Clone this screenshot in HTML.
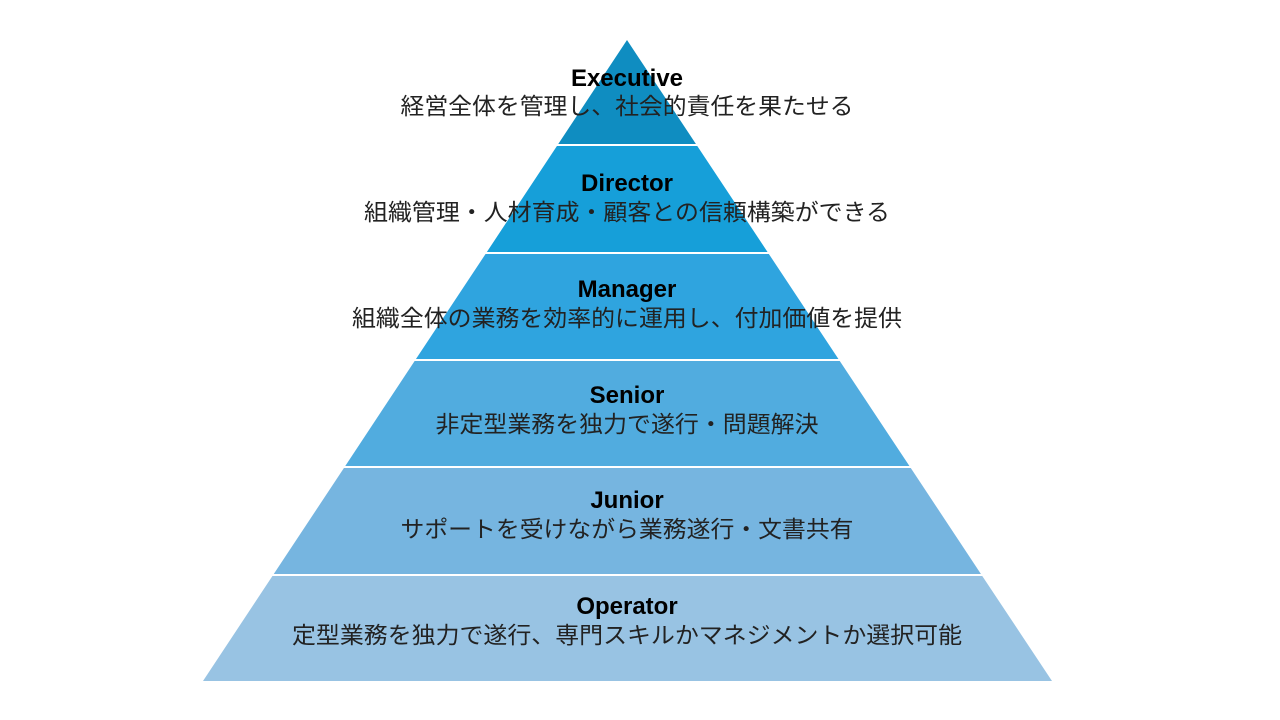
<!DOCTYPE html>
<html><head><meta charset="utf-8"><style>
html,body{margin:0;padding:0;background:#fff;}
svg{display:block;}
.t{font-family:"Liberation Sans","Noto Sans CJK JP",sans-serif;font-weight:bold;font-size:24px;fill:#000;}
.s{font-family:"Liberation Sans","Noto Sans CJK JP",sans-serif;font-size:23px;fill:#222;}
</style></head><body>
<svg width="1280" height="720" viewBox="0 0 1280 720">
<polygon points="627,40 557.6,145 696.6,145" fill="#0f8dc1"/>
<polygon points="557.6,145 696.6,145 768.2,253 486.2,253" fill="#169fd9"/>
<polygon points="486.2,253 768.2,253 839.1,360 415.3,360" fill="#2fa4df"/>
<polygon points="415.3,360 839.1,360 910.1,467 344.6,467" fill="#51acdf"/>
<polygon points="344.6,467 910.1,467 981.6,575 273.1,575" fill="#76b5e0"/>
<polygon points="273.1,575 981.6,575 1052,681 203,681" fill="#98c3e3"/>
<g stroke="#fff" stroke-width="2">
<line x1="540" y1="145" x2="720" y2="145"/>
<line x1="470" y1="253" x2="790" y2="253"/>
<line x1="400" y1="360" x2="860" y2="360"/>
<line x1="330" y1="467" x2="930" y2="467"/>
<line x1="260" y1="575" x2="1000" y2="575"/>
</g>
<g text-anchor="middle">
<text class="t" x="627" y="86">Executive</text>
<text class="s" x="627" y="114" textLength="453" lengthAdjust="spacingAndGlyphs">経営全体を管理し、社会的責任を果たせる</text>
<text class="t" x="627" y="191">Director</text>
<text class="s" x="627" y="220" textLength="526" lengthAdjust="spacingAndGlyphs">組織管理・人材育成・顧客との信頼構築ができる</text>
<text class="t" x="627" y="297">Manager</text>
<text class="s" x="627" y="326" textLength="550" lengthAdjust="spacingAndGlyphs">組織全体の業務を効率的に運用し、付加価値を提供</text>
<text class="t" x="627" y="403">Senior</text>
<text class="s" x="627" y="432" textLength="383" lengthAdjust="spacingAndGlyphs">非定型業務を独力で遂行・問題解決</text>
<text class="t" x="627" y="508">Junior</text>
<text class="s" x="627" y="537" textLength="453" lengthAdjust="spacingAndGlyphs">サポートを受けながら業務遂行・文書共有</text>
<text class="t" x="627" y="614">Operator</text>
<text class="s" x="627" y="643" textLength="670" lengthAdjust="spacingAndGlyphs">定型業務を独力で遂行、専門スキルかマネジメントか選択可能</text>
</g>
</svg>
</body></html>
